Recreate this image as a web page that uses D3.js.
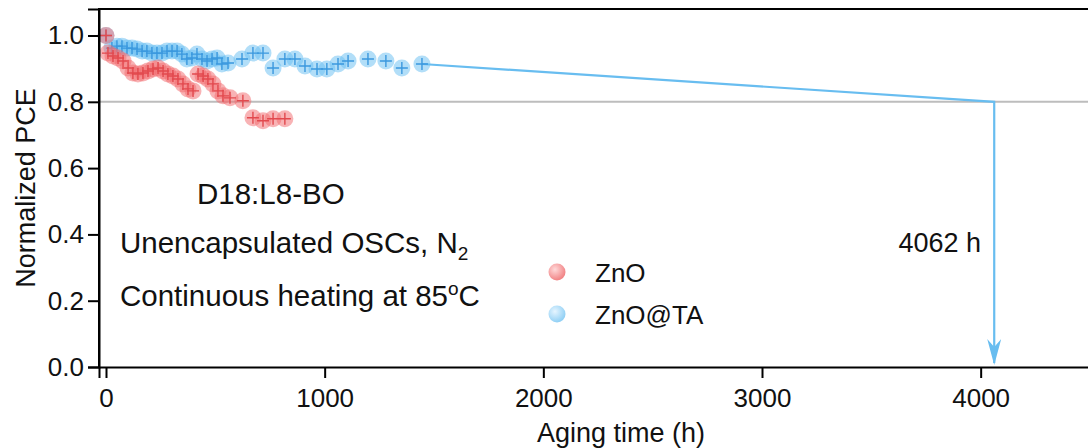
<!DOCTYPE html>
<html>
<head>
<meta charset="utf-8">
<script src="https://cdn.jsdelivr.net/npm/d3@7/dist/d3.min.js"></script>
<style>
  html, body { margin: 0; padding: 0; background: #fff; }
  svg text { font-family: "Liberation Sans", Arial, sans-serif; fill: #111; }
</style>
</head>
<body>
<svg id="chart" width="1088" height="448"></svg>
<script>
// Aging time (h) and normalized PCE for devices on bare ZnO
const znoTime = [0, 9, 32, 55, 78, 101, 123, 146, 169, 192, 215, 238, 261, 283, 306, 329, 352, 375, 398,
                 421, 444, 466, 489, 512, 535, 567, 626, 672, 718, 764, 818];
const znoPce  = [1.0, 0.947, 0.938, 0.932, 0.923, 0.902, 0.887, 0.884, 0.887, 0.893, 0.899, 0.902, 0.893,
                 0.884, 0.878, 0.869, 0.854, 0.839, 0.833, 0.884, 0.878, 0.869, 0.854, 0.833, 0.818, 0.812,
                 0.803, 0.752, 0.743, 0.749, 0.749];
// Aging time (h) and normalized PCE for devices on ZnO@TA
const taTime = [0, 27, 50, 73, 96, 119, 142, 165, 187, 210, 233, 256, 279, 302, 325, 347, 370, 393, 416,
                439, 462, 485, 508, 530, 558, 622, 672, 718, 764, 818, 864, 910, 965, 1010, 1061, 1107,
                1198, 1280, 1353, 1445];
const taPce  = [1.0, 0.962, 0.968, 0.968, 0.962, 0.962, 0.959, 0.953, 0.953, 0.947, 0.947, 0.947, 0.953,
                0.953, 0.953, 0.944, 0.929, 0.932, 0.944, 0.929, 0.923, 0.929, 0.932, 0.914, 0.917, 0.929,
                0.947, 0.947, 0.902, 0.929, 0.929, 0.908, 0.899, 0.899, 0.914, 0.923, 0.929, 0.923, 0.902,
                0.914];
// T80 lifetime extrapolated for ZnO@TA
const t80Time = [4062];
const t80Level = [0.8];
const xTicks = [0, 1000, 2000, 3000, 4000];
const yTicks = [0.0, 0.2, 0.4, 0.6, 0.8, 1.0];
const seriesNames = ["ZnO", "ZnO@TA"];

const svg = d3.select("#chart");
const x = d3.scaleLinear().domain([-32, 4500]).range([99, 1090]);
const y = d3.scaleLinear().domain([0, 1.08]).range([367, 9]);

const defs = svg.append("defs");
function ballGradient(id, light, base) {
  const g = defs.append("radialGradient").attr("id", id)
    .attr("cx", "0.38").attr("cy", "0.35").attr("r", "0.7");
  g.append("stop").attr("offset", "0").attr("stop-color", light);
  g.append("stop").attr("offset", "1").attr("stop-color", base);
}
ballGradient("ballRed", "#ffd9d9", "#f07c7e");
ballGradient("ballBlue", "#e6f5ff", "#8acdf4");

// barbed arrow head, drawn along +x so orient="auto" turns it with the path
const arrow = defs.append("marker").attr("id", "arrowHead")
  .attr("viewBox", "0 0 26 14").attr("refX", 24).attr("refY", 7)
  .attr("markerWidth", 26).attr("markerHeight", 14).attr("markerUnits", "userSpaceOnUse")
  .attr("orient", "auto");
arrow.append("path").attr("d", "M26,7 L0,0 L8,7 L0,14 Z").attr("fill", "#68bdf0");

// 80 % reference line
svg.append("line")
  .attr("x1", x.range()[0]).attr("x2", 1088)
  .attr("y1", y(0.8)).attr("y2", y(0.8))
  .attr("stroke", "#bdbdbd").attr("stroke-width", 2);

// extrapolation from the last ZnO@TA point to T80, then down to the time axis
const lastI = taTime.length - 1;
svg.append("path")
  .attr("d", d3.line()([[x(taTime[lastI]), y(taPce[lastI])], [x(t80Time[0]), y(t80Level[0])], [x(t80Time[0]), y(0) - 4]]))
  .attr("fill", "none").attr("stroke", "#68bdf0").attr("stroke-width", 2.2)
  .attr("marker-end", "url(#arrowHead)");

function drawSeries(tArr, vArr, fill, cross) {
  const g = svg.append("g");
  const pts = tArr.map((t, i) => [x(t), y(vArr[i])]);
  g.selectAll("circle").data(pts).join("circle")
    .attr("cx", d => d[0]).attr("cy", d => d[1]).attr("r", 8.5)
    .attr("fill", fill).attr("fill-opacity", 0.52);
  g.selectAll("path.err").data(pts).join("path").attr("class", "err")
    .attr("d", d => `M${d[0] - 6},${d[1]}H${d[0] + 6}M${d[0]},${d[1] - 6}V${d[1] + 6}`)
    .attr("stroke", cross).attr("stroke-width", 1.4).attr("fill", "none");
}
drawSeries(taTime, taPce, "#6cc0f2", "#3a98de");
drawSeries(znoTime, znoPce, "#f26e71", "#e2494e");

// axes
const yAxis = svg.append("g").attr("transform", `translate(${x.range()[0]},0)`)
  .call(d3.axisLeft(y).tickValues(yTicks).tickFormat(d3.format(".1f")).tickSizeOuter(0).tickSize(11).tickPadding(4));
const xAxis = svg.append("g").attr("transform", `translate(0,${y.range()[0]})`)
  .call(d3.axisBottom(x).tickValues(xTicks).tickFormat(d3.format("d")).tickSizeOuter(0).tickSize(11).tickPadding(11));
[yAxis, xAxis].forEach(a => {
  a.select(".domain").attr("stroke", "#000").attr("stroke-width", 2);
  a.selectAll(".tick line").attr("stroke", "#000").attr("stroke-width", 2);
  a.selectAll(".tick text").attr("font-size", 26).style("fill", "#111");
});
svg.append("line").attr("x1", x.range()[0]).attr("x2", 1088)
  .attr("y1", y.range()[1]).attr("y2", y.range()[1]).attr("stroke", "#000").attr("stroke-width", 2);
svg.append("line").attr("x1", x.range()[0]).attr("x2", x.range()[0])
  .attr("y1", y.range()[1] - 1).attr("y2", y.range()[0]).attr("stroke", "#000").attr("stroke-width", 2);

// axis titles
svg.append("text").attr("x", 621).attr("y", 442).attr("text-anchor", "middle")
  .attr("font-size", 27).text("Aging time (h)");
svg.append("text").attr("transform", "translate(35,188) rotate(-90)").attr("text-anchor", "middle")
  .attr("font-size", 27).text("Normalized PCE");

// annotations
svg.append("text").attr("x", 197).attr("y", 204).attr("font-size", 29.5).text("D18:L8-BO");
const t2 = svg.append("text").attr("x", 120).attr("y", 253).attr("font-size", 29.5);
t2.append("tspan").text("Unencapsulated OSCs, N");
t2.append("tspan").attr("font-size", 19).attr("dy", 7).text("2");
const t3 = svg.append("text").attr("x", 120).attr("y", 306).attr("font-size", 29.5);
t3.append("tspan").text("Continuous heating at 85");
t3.append("tspan").attr("font-size", 19).attr("dy", -11).text("o");
t3.append("tspan").attr("dy", 11).text("C");
svg.append("text").attr("x", 981).attr("y", 252).attr("text-anchor", "end")
  .attr("font-size", 27).text(`${t80Time[0]} h`);

// legend
const legend = svg.append("g");
seriesNames.forEach((name, i) => {
  const cy = 272 + i * 42;
  legend.append("circle").attr("cx", 557).attr("cy", cy).attr("r", 8.5)
    .attr("fill", i === 0 ? "url(#ballRed)" : "url(#ballBlue)");
  legend.append("text").attr("x", 595).attr("y", cy + 10).attr("font-size", 26).text(name);
});
</script>
</body>
</html>
